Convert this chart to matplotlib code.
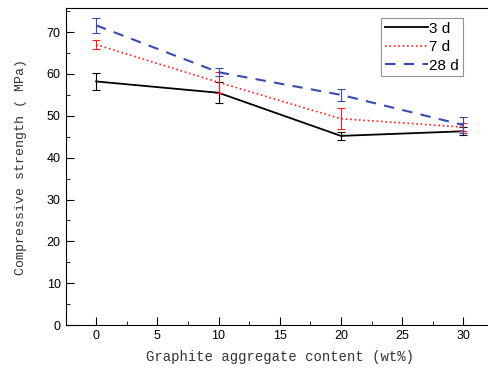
import matplotlib
matplotlib.use("Agg")
import matplotlib.pyplot as plt
from matplotlib.ticker import MultipleLocator

# graphite aggregate content (wt%)
content = [0, 10, 20, 30]

s3 = [58.2, 55.5, 45.2, 46.3]
e3 = [2.0, 2.5, 1.0, 1.0]
s7 = [67.0, 58.0, 49.3, 47.3]
e7 = [1.0, 2.5, 2.5, 1.0]
s28 = [71.6, 60.4, 55.0, 47.8]
e28 = [1.8, 1.0, 1.5, 2.0]

fig = plt.figure(figsize=(4.89, 3.72), dpi=100)
ax = fig.add_axes([0.134, 0.126, 0.876, 0.852])

series = [(s3, e3, 'black', '-', 1.3, '3 d'),
          (s7, e7, '#ff2020', ':', 1.2, '7 d'),
          (s28, e28, '#3a4bb0', (0, (5, 4)), 1.5, '28 d')]
for vals, errs, col, ls, lw, name in series:
    ax.errorbar(content, vals, yerr=errs, color=col, lw=0, capsize=3,
                elinewidth=0.8, capthick=0.8)
    ax.plot(content, vals, color=col, ls=ls, lw=lw, label=name)

ax.set_xlim(-2.5, 32.5)
ax.set_ylim(0, 75.7)
ax.xaxis.set_major_locator(MultipleLocator(5))
ax.xaxis.set_minor_locator(MultipleLocator(2.5))
ax.yaxis.set_major_locator(MultipleLocator(10))
ax.yaxis.set_minor_locator(MultipleLocator(5))
ax.tick_params(which='both', direction='in', labelsize=9)
ax.tick_params(which='major', length=6)
ax.tick_params(which='minor', length=3)
for lab in ax.get_xticklabels() + ax.get_yticklabels():
    lab.set_family('Liberation Sans')

ax.set_xlabel('Graphite aggregate content (wt%)', family='Liberation Mono',
              fontsize=10, color='#333333', labelpad=6)
ax.set_ylabel('Compressive strength ( MPa)', family='Liberation Mono',
              fontsize=9.5, color='#333333', labelpad=14)

leg = ax.legend(loc='upper right', bbox_to_anchor=(0.928, 0.97), fancybox=False,
                edgecolor='#777777', handlelength=2.8, handletextpad=0.1,
                borderpad=0.25, borderaxespad=0, labelspacing=0.3,
                prop={'family': 'Liberation Sans', 'size': 11})
leg.get_frame().set_linewidth(0.8)

fig.savefig('out.png', dpi=100)
